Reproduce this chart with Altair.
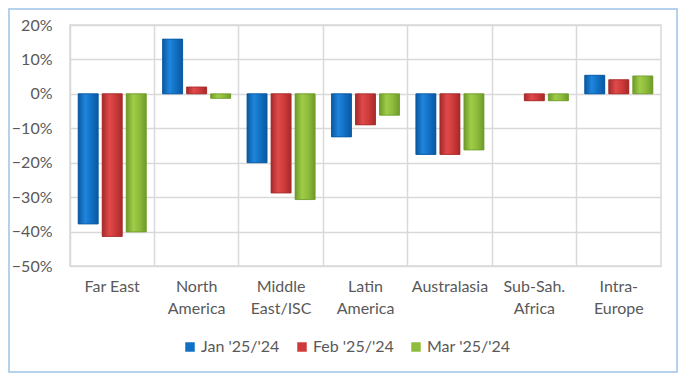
import altair as alt
import pandas as pd

categories = ["Far East", "North|America", "Middle|East/ISC", "Latin|America",
              "Australasia", "Sub-Sah.|Africa", "Intra-|Europe"]
series = ["Jan '25/'24", "Feb '25/'24", "Mar '25/'24"]
jan = [-37.8, 15.9, -20.0, -12.5, -17.6, 0.0, 5.4]
feb = [-41.4, 2.0, -28.8, -9.0, -17.6, -2.0, 4.1]
mar = [-40.1, -1.3, -30.7, -6.2, -16.3, -2.0, 5.2]
colors = ["#1170c4", "#cf3a3a", "#8ebc3b"]
edge_colors = ["#0a58a0", "#a52a2a", "#6e9a2a"]
light_colors = ["#1f86dc", "#e04a4a", "#9fcd48"]
y_ticks = [20, 10, 0, -10, -20, -30, -40, -50]

rows = []
for s, vals in zip(series, [jan, feb, mar]):
    for c, v in zip(categories, vals):
        rows.append({"category": c, "series": s, "value": v / 100})
df = pd.DataFrame(rows)

FONT = "Lato"
TEXT = "#595959"
GRID = "#d9d9d9"

x_enc = alt.X("category:N", sort=categories,
              scale=alt.Scale(paddingInner=0, paddingOuter=0),
              axis=alt.Axis(title=None, labelAngle=0, labelExpr="split(datum.value, '|')",
                            labelFont=FONT, labelFontSize=16, labelColor=TEXT,
                            labelLineHeight=22, labelPadding=12, ticks=False, domain=False,
                            grid=True, gridColor=GRID, gridWidth=1.5, bandPosition=0,
                            labelBaseline="top"))
xo_enc = alt.XOffset("series:N", sort=series,
                     scale=alt.Scale(domain=series, paddingInner=0.167, paddingOuter=0.34))
y_enc = alt.Y("value:Q",
              scale=alt.Scale(domain=[-0.5, 0.2], nice=False, zero=False),
              axis=alt.Axis(title=None, format=".0%", values=[t / 100 for t in y_ticks],
                            labelFont=FONT, labelFontSize=16, labelColor=TEXT,
                            labelPadding=18, ticks=False, domain=False,
                            grid=True, gridColor=GRID, gridWidth=1.5))

base = alt.Chart(df).transform_filter("datum.value != 0")

bars = base.mark_bar().encode(
    x=x_enc, xOffset=xo_enc, y=y_enc,
    color=alt.Color("series:N", sort=series,
                    scale=alt.Scale(domain=series, range=colors),
                    legend=alt.Legend(title=None, orient="none", direction="horizontal",
                                      legendX=112, legendY=314,
                                      symbolType="square", symbolSize=90,
                                      symbolStrokeWidth=0,
                                      labelFont=FONT, labelFontSize=16, labelColor=TEXT,
                                      labelOffset=3, columnPadding=14)),
)

grad_layers = []
for s, c, e, l in zip(series, colors, edge_colors, light_colors):
    grad = alt.LinearGradient(
        gradient="linear", x1=0, x2=1, y1=0, y2=0,
        stops=[alt.GradientStop(offset=0, color=e),
               alt.GradientStop(offset=0.35, color=l),
               alt.GradientStop(offset=0.65, color=c),
               alt.GradientStop(offset=1, color=e)])
    grad_layers.append(
        base.transform_filter(alt.datum.series == s).mark_bar(
            color=grad, stroke=e, strokeWidth=0.8
        ).encode(x=x_enc, xOffset=xo_enc, y=y_enc)
    )

frame = alt.Chart(alt.Data(values=[{}])).mark_rect(
    fill=None, stroke="#9dc3e6", strokeWidth=1.5
).encode(
    x=alt.value(-61), x2=alt.value(607), y=alt.value(-16), y2=alt.value(347)
)

chart = alt.layer(frame, bars, *grad_layers).properties(
    width=591, height=241, padding=0,
    background="white"
).configure_view(stroke=GRID, strokeWidth=1.5)

chart.save("out.html", embed_options={"renderer": "svg", "actions": False})
